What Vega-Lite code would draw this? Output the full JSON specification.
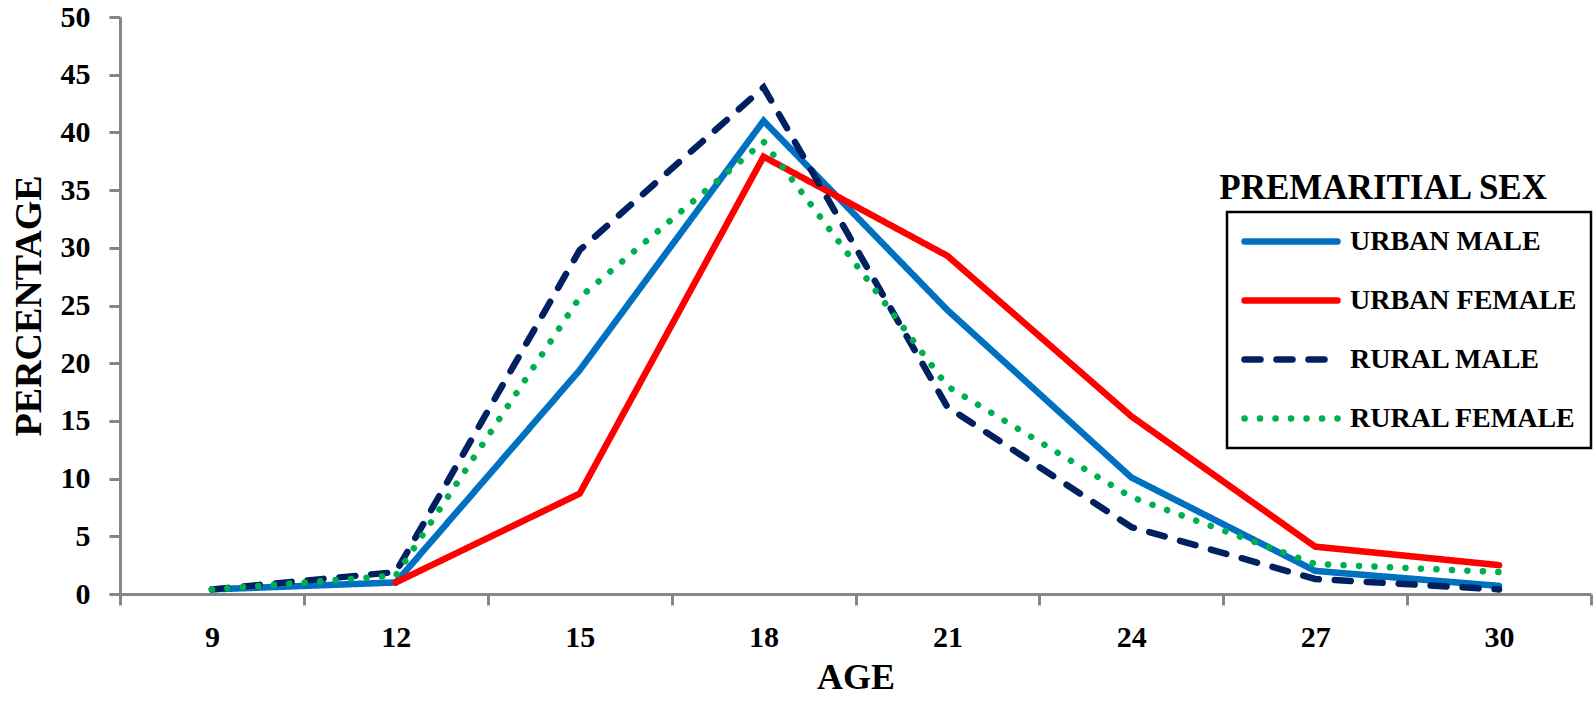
{
  "$schema": "https://vega.github.io/schema/vega-lite/v6.json",
  "width": 1471,
  "height": 577,
  "autosize": {"type": "none"},
  "padding": {"left": 120, "top": 17, "right": 5, "bottom": 109},
  "background": "white",
  "config": {
    "font": "Liberation Serif",
    "view": {"stroke": null},
    "axis": {"grid": false, "domainColor": "#868686", "domainWidth": 3, "tickColor": "#868686", "tickWidth": 3, "tickSize": 11,
      "labelFont": "Liberation Serif", "labelFontWeight": "bold", "labelFontSize": 30, "labelColor": "black",
      "titleFont": "Liberation Serif", "titleFontWeight": "bold", "titleColor": "black"}
  },
  "title": {"text": "PREMARITIAL SEX", "orient": "top", "anchor": "end", "frame": "group", "offset": 0, "dx": -44, "dy": 232,
    "baseline": "alphabetic", "font": "Liberation Serif", "fontSize": 35, "fontWeight": "bold", "color": "black"},
  "data": {"values": [
    {"series": "Urban Male", "age": 9, "pct": 0.4},
    {"series": "Urban Male", "age": 12, "pct": 1.0},
    {"series": "Urban Male", "age": 15, "pct": 19.4},
    {"series": "Urban Male", "age": 18, "pct": 41.0},
    {"series": "Urban Male", "age": 21, "pct": 24.6},
    {"series": "Urban Male", "age": 24, "pct": 10.1},
    {"series": "Urban Male", "age": 27, "pct": 2.0},
    {"series": "Urban Male", "age": 30, "pct": 0.7},
    {"series": "Urban Female", "age": 12, "pct": 1.0},
    {"series": "Urban Female", "age": 15, "pct": 8.7},
    {"series": "Urban Female", "age": 18, "pct": 37.9},
    {"series": "Urban Female", "age": 21, "pct": 29.3},
    {"series": "Urban Female", "age": 24, "pct": 15.4},
    {"series": "Urban Female", "age": 27, "pct": 4.1},
    {"series": "Urban Female", "age": 30, "pct": 2.5},
    {"series": "Rural Male", "age": 9, "pct": 0.4},
    {"series": "Rural Male", "age": 12, "pct": 1.9},
    {"series": "Rural Male", "age": 15, "pct": 29.8},
    {"series": "Rural Male", "age": 18, "pct": 43.9},
    {"series": "Rural Male", "age": 21, "pct": 16.2},
    {"series": "Rural Male", "age": 24, "pct": 5.8},
    {"series": "Rural Male", "age": 27, "pct": 1.3},
    {"series": "Rural Male", "age": 30, "pct": 0.4},
    {"series": "Rural Female", "age": 9, "pct": 0.4},
    {"series": "Rural Female", "age": 12, "pct": 1.6},
    {"series": "Rural Female", "age": 15, "pct": 25.7},
    {"series": "Rural Female", "age": 18, "pct": 39.2},
    {"series": "Rural Female", "age": 21, "pct": 18.0},
    {"series": "Rural Female", "age": 24, "pct": 8.4},
    {"series": "Rural Female", "age": 27, "pct": 2.6},
    {"series": "Rural Female", "age": 30, "pct": 1.9}
  ]},
  "mark": {"type": "line", "strokeWidth": 6.5, "strokeCap": "round", "strokeJoin": "miter"},
  "encoding": {
    "x": {"field": "age", "type": "quantitative",
      "scale": {"domain": [7.5, 31.5], "nice": false, "zero": false},
      "axis": {"title": "AGE", "titleFontSize": 36, "titlePadding": 8,
        "values": [7.5, 9, 10.5, 12, 13.5, 15, 16.5, 18, 19.5, 21, 22.5, 24, 25.5, 27, 28.5, 30, 31.5],
        "labelExpr": "datum.value % 3 === 0 ? datum.label : ''",
        "tickOpacity": {"condition": {"test": "datum.value % 3 === 0", "value": 0}, "value": 1},
        "labelPadding": 17, "labelFlush": false, "labelOverlap": false}},
    "y": {"field": "pct", "type": "quantitative",
      "scale": {"domain": [0, 50], "nice": false},
      "axis": {"title": "PERCENTAGE", "titleFontSize": 38, "titlePadding": 12,
        "values": [0, 5, 10, 15, 20, 25, 30, 35, 40, 45, 50], "labelPadding": 19}},
    "color": {"field": "series", "type": "nominal",
      "scale": {"domain": ["Urban Male", "Urban Female", "Rural Male", "Rural Female"], "range": ["#0070C0", "#FF0000", "#002060", "#00B050"]},
      "legend": {"title": null, "orient": "none", "legendX": 1107, "legendY": 195, "padding": 14,
        "strokeColor": "black", "fillColor": "white",
        "symbolType": "stroke", "symbolSize": 8649, "symbolStrokeWidth": 6.5, "clipHeight": 31,
        "labelFont": "Liberation Serif", "labelFontWeight": "bold", "labelFontSize": 28, "labelColor": "black", "labelLimit": 400,
        "labelOffset": 9, "rowPadding": 28, "labelExpr": "upper(datum.label)",
        "encode": {"symbols": {"update": {"strokeCap": {"value": "round"}}}, "legend": {"update": {"strokeWidth": {"value": 2.5}}}}}},
    "strokeDash": {"field": "series", "type": "nominal",
      "scale": {"domain": ["Urban Male", "Urban Female", "Rural Male", "Rural Female"], "range": [[1, 0], [1, 0], [16, 16], [0.1, 15.4]]},
      "legend": {"title": null, "orient": "none", "legendX": 1107, "legendY": 195, "padding": 14,
        "strokeColor": "black", "fillColor": "white",
        "symbolType": "stroke", "symbolSize": 8649, "symbolStrokeWidth": 6.5, "clipHeight": 31,
        "labelFont": "Liberation Serif", "labelFontWeight": "bold", "labelFontSize": 28, "labelColor": "black", "labelLimit": 400,
        "labelOffset": 9, "rowPadding": 28, "labelExpr": "upper(datum.label)",
        "encode": {"symbols": {"update": {"strokeCap": {"value": "round"}}}, "legend": {"update": {"strokeWidth": {"value": 2.5}}}}}}
  }
}
